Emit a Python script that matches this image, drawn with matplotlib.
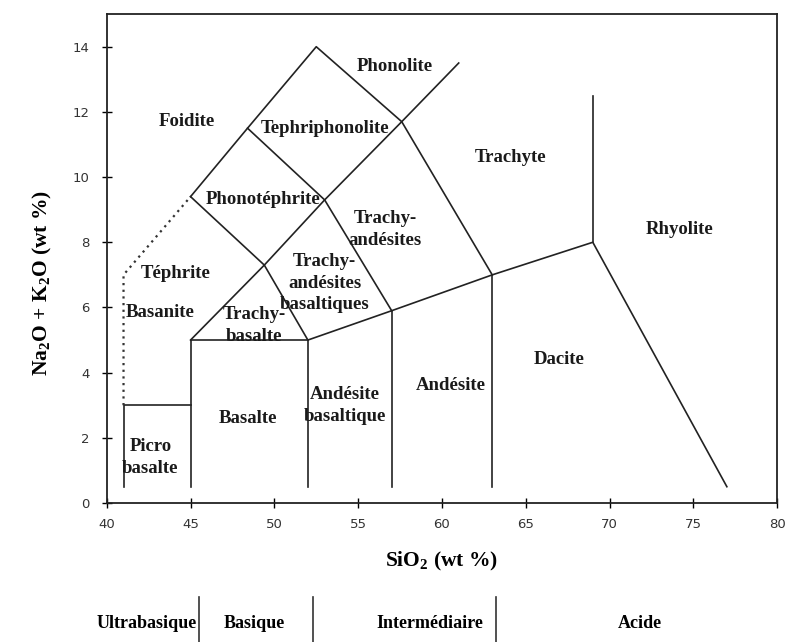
import matplotlib.pyplot as plt
from matplotlib.transforms import blended_transform_factory

# Diagramme TAS (Le Bas et al., 1986)

# limites des champs (SiO2, Na2O+K2O)
lignes = [
    [(41, 0.5), (41, 3), (45, 3)],
    [(45, 0.5), (45, 5), (52, 5), (52, 0.5)],
    [(57, 0.5), (57, 5.9)],
    [(63, 0.5), (63, 7)],
    [(52, 5), (57, 5.9), (63, 7), (69, 8), (77, 0.5)],
    [(69, 8), (69, 12.5)],
    [(45, 5), (49.4, 7.3), (53, 9.3), (57.6, 11.7), (61, 13.5)],
    [(45, 9.4), (48.4, 11.5), (52.5, 14), (57.6, 11.7), (63, 7)],
    [(45, 9.4), (49.4, 7.3), (52, 5)],
    [(48.4, 11.5), (53, 9.3), (57, 5.9)],
]
pointilles = [(41, 3), (41, 7), (45, 9.4)]

noms = ["Phonolite", "Foidite", "Tephriphonolite", "Trachyte", "Phonotéphrite",
        "Trachy-\nandésites", "Rhyolite", "Téphrite", "Trachy-\nandésites\nbasaltiques",
        "Basanite", "Trachy-\nbasalte", "Dacite", "Andésite", "Andésite\nbasaltique",
        "Basalte", "Picro\nbasalte"]
noms_x = [57.2, 44.8, 53.0, 64.1, 49.3, 56.6, 74.2, 44.1, 53.0, 43.2, 48.8, 67.0,
          60.5, 54.2, 48.4, 42.6]
noms_y = [13.4, 11.7, 11.5, 10.6, 9.3, 8.4, 8.4, 7.05, 6.75, 5.85, 5.45, 4.4, 3.6,
          3.0, 2.6, 1.4]

classes = ["Ultrabasique", "Basique", "Intermédiaire", "Acide"]
classes_x = [42.4, 48.8, 59.3, 71.8]
separateurs = [45.5, 52.3, 63.2]

serif = "Liberation Serif"
plt.rcParams["mathtext.fontset"] = "custom"
plt.rcParams["mathtext.rm"] = "Liberation Serif:bold"
plt.rcParams["mathtext.it"] = "Liberation Serif:bold"
plt.rcParams["mathtext.bf"] = "Liberation Serif:bold"

fig = plt.figure(figsize=(7.85, 6.42), dpi=100)
ax = fig.add_axes([0.136, 0.2165, 0.854, 0.7615])

for l in lignes:
    xs, ys = zip(*l)
    ax.plot(xs, ys, color="#222222", lw=1.2)
xs, ys = zip(*pointilles)
ax.plot(xs, ys, color="#333333", lw=1.6, linestyle=(0, (1, 2)))

for nom, x, y in zip(noms, noms_x, noms_y):
    ax.text(x, y, nom, ha="center", va="center", family=serif, weight="bold",
            fontsize=13.5, linespacing=1.35, color="#1a1a1a")

ax.set_xlim(40, 80)
ax.set_ylim(0, 15)
ax.set_xticks(range(40, 81, 5))
ax.set_yticks(range(0, 15, 2))
ax.tick_params(direction="inout", length=7, width=1, labelsize=9.5,
               labelcolor="#333333")
ax.tick_params(axis="y", pad=9)
ax.tick_params(axis="x", pad=7)
for s in ax.spines.values():
    s.set_linewidth(1.3)
    s.set_color("#222222")

ax.set_xlabel("SiO$_2$ (wt %)", family=serif, weight="bold", fontsize=15.5)
ax.xaxis.set_label_coords(0.5, -0.097)
ax.set_ylabel("Na$_2$O + K$_2$O (wt %)", family=serif, weight="bold", fontsize=15.5)
ax.yaxis.set_label_coords(-0.078, 0.45)

# classification en bas
tr = blended_transform_factory(ax.transData, fig.transFigure)
for c, x in zip(classes, classes_x):
    ax.text(x, 1 - 623 / 642, c, transform=tr, ha="center", va="center",
            family=serif, weight="bold", fontsize=13, clip_on=False)
for x in separateurs:
    ax.plot([x, x], [1 - 597 / 642, 0], transform=tr, color="#333333", lw=1.2,
            clip_on=False)

fig.savefig("out.png")
